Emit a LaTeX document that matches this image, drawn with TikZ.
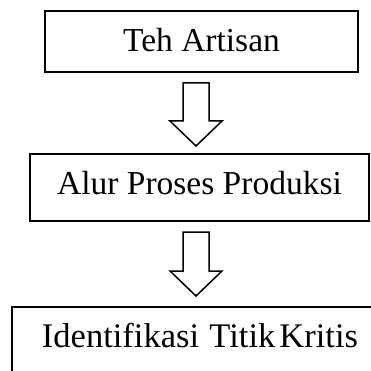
\documentclass[tikz,border=0pt]{standalone}
\usepackage{fontspec}
\setmainfont{Liberation Serif}
\begin{document}
\begin{tikzpicture}[x=1pt,y=-1pt,
  box/.style={draw, line width=2pt, inner sep=0pt, align=center,
    font=\fontsize{33.5}{40}\selectfont, text height=22pt},
  blockarrow/.style={draw, line width=1.5pt, line join=miter, fill=white}]
\useasboundingbox (0,0) rectangle (371,371);
\clip (0,0) rectangle (371,371);
\node[box, minimum width=313pt, minimum height=61pt, text depth=2pt] (teh) at (201.5,41.5) {Teh Artisan};
\node[box, minimum width=339pt, minimum height=67pt, text depth=9pt] (alur) at (199.5,187.5) {Alur Proses Produksi};
\node[box, minimum width=376pt, minimum height=67pt, text depth=8pt, font=\fontsize{34.5}{40}\selectfont] (ident) at (200,340.5) {Identifikasi\hspace{0.3em}Titik\hspace{0.12em}Kritis};
\draw[blockarrow] (183,83) -- (209,83) -- (209,121) -- (222,121) -- (196,146) -- (170,121) -- (183,121) -- cycle;
\draw[blockarrow] (183,232) -- (209,232) -- (209,271) -- (222,271) -- (196,296) -- (170,271) -- (183,271) -- cycle;
\end{tikzpicture}
\end{document}
